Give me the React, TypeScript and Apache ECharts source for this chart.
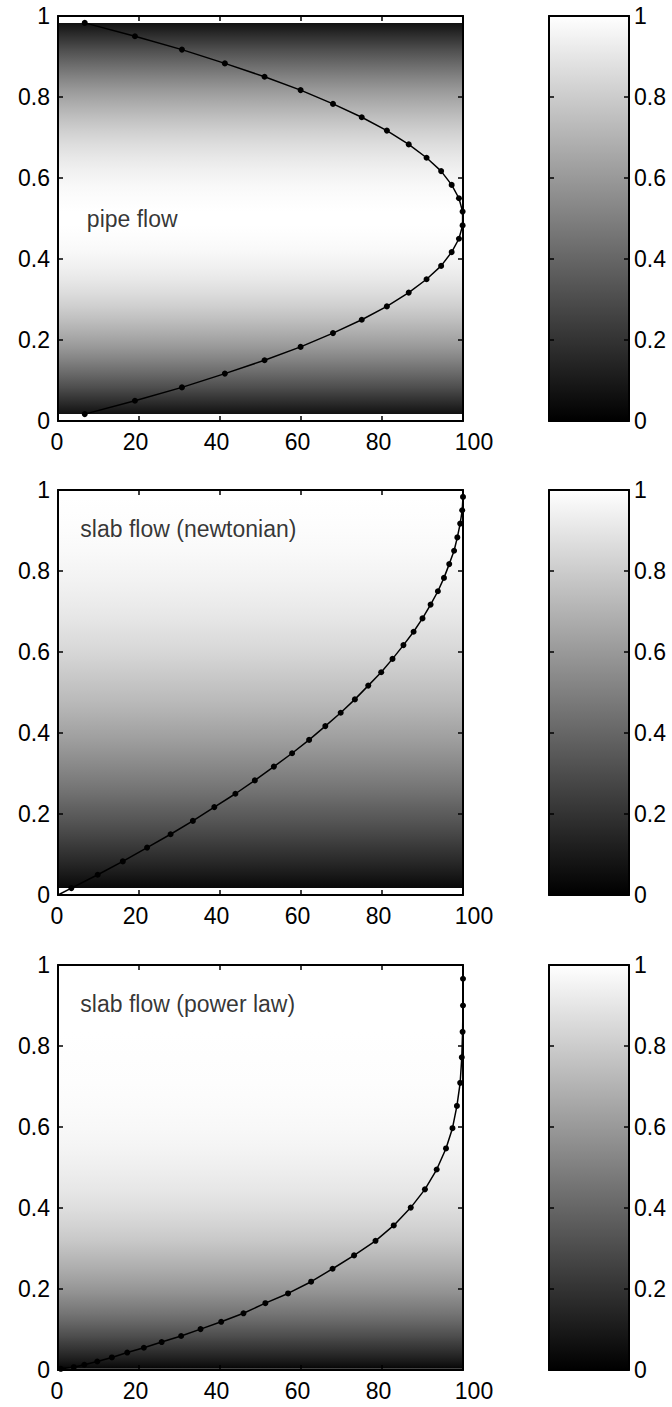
import React, { useEffect, useRef } from 'react';
import * as echarts from 'echarts';

// ---- data ----
const titles = ['pipe flow', 'slab flow (newtonian)', 'slab flow (power law)'];

// pipe flow profile (height y, velocity u in %)
const pipeY = [0.017, 0.05, 0.083, 0.117, 0.15, 0.183, 0.217, 0.25, 0.283, 0.317, 0.35, 0.383, 0.417, 0.45, 0.483,
  0.517, 0.55, 0.583, 0.617, 0.65, 0.683, 0.717, 0.75, 0.783, 0.817, 0.85, 0.883, 0.917, 0.95, 0.983];
const pipeU = [6.6, 19, 30.6, 41.2, 51, 59.9, 67.9, 75, 81.2, 86.6, 91, 94.6, 97.2, 99, 99.9,
  99.9, 99, 97.2, 94.6, 91, 86.6, 81.2, 75, 67.9, 59.9, 51, 41.2, 30.6, 19, 6.6];

// newtonian slab flow profile
const newtY = [0.017, 0.05, 0.083, 0.117, 0.15, 0.183, 0.217, 0.25, 0.283, 0.317, 0.35, 0.383, 0.417, 0.45, 0.483,
  0.517, 0.55, 0.583, 0.617, 0.65, 0.683, 0.717, 0.75, 0.783, 0.817, 0.85, 0.883, 0.917, 0.95, 0.983];
const newtU = [3.3, 9.8, 16.0, 22.0, 27.8, 33.3, 38.6, 43.8, 48.6, 53.3, 57.8, 62.0, 66.0, 69.8, 73.3,
  76.6, 79.8, 82.6, 85.3, 87.8, 90.0, 92.0, 93.8, 95.3, 96.6, 97.8, 98.6, 99.3, 99.8, 100];

// power-law slab flow profile
const powY = [0.003, 0.007, 0.013, 0.021, 0.031, 0.043, 0.055, 0.069, 0.084, 0.101, 0.119, 0.14, 0.165, 0.189, 0.218,
  0.25, 0.283, 0.319, 0.357, 0.401, 0.446, 0.495, 0.547, 0.597, 0.652, 0.709, 0.772, 0.835, 0.9, 0.966];
const powU = [0.7, 3.9, 6.5, 9.7, 13.3, 17.1, 21.2, 25.6, 30.4, 35.2, 40.3, 45.8, 51.2, 56.8, 62.5,
  67.8, 73.1, 78.4, 82.9, 87.1, 90.6, 93.5, 95.8, 97.4, 98.5, 99.3, 99.7, 99.9, 100, 100];

const wallStart = [0, 0]; // line starts at the wall for slab flows

const xTicks = { min: 0, max: 100, interval: 20 };
const yTicks = { min: 0, max: 1, interval: 0.2 };
const colorRange = [0, 1];

const profiles = [
  { y: pipeY, u: pipeU, fromWall: false, text: [7, 0.5] },
  { y: newtY, u: newtU, fromWall: true, text: [5.4, 0.904] },
  { y: powY, u: powU, fromWall: true, text: [5.4, 0.904] },
];

const FONT = 'Liberation Sans, Arial, Helvetica, sans-serif';
const FS = 23;

const gray = (v: number) => {
  const g = Math.round(Math.max(0, Math.min(1, v)) * 255);
  return `rgb(${g},${g},${g})`;
};

const tops = [16, 490, 965];

export default function App() {
  const ref = useRef<HTMLDivElement>(null);
  useEffect(() => {
    document.body.style.margin = '0';
    const chart = echarts.init(ref.current!, undefined, { renderer: 'svg' });
    const grid: any[] = [];
    const xAxis: any[] = [];
    const yAxis: any[] = [];
    const series: any[] = [];
    const axLine = { show: true, onZero: false, lineStyle: { color: '#000', width: 2 } };
    const tick = { show: true, inside: true, length: 5, lineStyle: { color: '#000', width: 1.5 } };
    const lbl = { fontSize: FS, fontFamily: FONT, color: '#000' };
    const xLabel = {
      ...lbl, margin: 9,
      formatter: (v: number) => (v === xTicks.max ? `{r|${v}}` : v === xTicks.min ? `{z|${v}}` : `{n|${v}}`),
      rich: {
        n: { ...lbl, padding: [0, 7, 0, 0] },
        z: { ...lbl, padding: [0, 2, 0, 0] },
        r: { ...lbl, padding: [0, 0, 0, 22] },
      },
    };

    profiles.forEach((p, k) => {
      const gMain = 2 * k, gCb = 2 * k + 1;
      grid.push({ left: 58, top: tops[k], width: 405, height: 405 });
      grid.push({ left: 549, top: tops[k], width: 80, height: 405 });
      const xb = xAxis.length;
      xAxis.push({ type: 'value', gridIndex: gMain, position: 'bottom', ...xTicks, axisLine: axLine, axisTick: tick,
        axisLabel: xLabel, splitLine: { show: false }, z: 5 });
      xAxis.push({ type: 'value', gridIndex: gMain, position: 'top', ...xTicks, axisLine: axLine, axisTick: tick,
        axisLabel: { show: false }, splitLine: { show: false }, z: 5 });
      xAxis.push({ type: 'value', gridIndex: gCb, position: 'bottom', min: colorRange[0], max: colorRange[1], axisLine: axLine,
        axisTick: { show: false }, axisLabel: { show: false }, splitLine: { show: false }, z: 5 });
      xAxis.push({ type: 'value', gridIndex: gCb, position: 'top', min: colorRange[0], max: colorRange[1], axisLine: axLine,
        axisTick: { show: false }, axisLabel: { show: false }, splitLine: { show: false }, z: 5 });
      const yb = yAxis.length;
      yAxis.push({ type: 'value', gridIndex: gMain, position: 'left', ...yTicks, axisLine: axLine, axisTick: tick,
        axisLabel: { ...lbl, margin: 8 }, splitLine: { show: false }, z: 5 });
      yAxis.push({ type: 'value', gridIndex: gMain, position: 'right', ...yTicks, axisLine: axLine, axisTick: tick,
        axisLabel: { show: false }, splitLine: { show: false }, z: 5 });
      yAxis.push({ type: 'value', gridIndex: gCb, position: 'left', ...yTicks, axisLine: axLine, axisTick: tick,
        axisLabel: { show: false }, splitLine: { show: false }, z: 5 });
      yAxis.push({ type: 'value', gridIndex: gCb, position: 'right', ...yTicks, axisLine: axLine, axisTick: tick,
        axisLabel: { ...lbl, margin: 5 }, splitLine: { show: false }, z: 5 });

      const yMin = p.y[0], yMax = p.y[p.y.length - 1];
      // background image of the velocity field
      series.push({
        type: 'custom', xAxisIndex: xb, yAxisIndex: yb, z: 1, silent: true,
        data: [[xTicks.min, yMin, xTicks.max, yMax]],
        renderItem: (params: any, api: any) => {
          const a = api.coord([api.value(0), api.value(3)]);
          const b = api.coord([api.value(2), api.value(1)]);
          const stops = p.y.map((yy, i) => ({ offset: (yMax - yy) / (yMax - yMin), color: gray(p.u[i] / 100) })).reverse();
          return {
            type: 'rect',
            shape: { x: a[0], y: a[1], width: b[0] - a[0], height: b[1] - a[1] },
            style: { fill: new echarts.graphic.LinearGradient(0, 0, 0, 1, stops) },
          };
        },
      });
      // colorbar
      series.push({
        type: 'custom', xAxisIndex: xb + 2, yAxisIndex: yb + 2, z: 1, silent: true,
        data: [[colorRange[0], colorRange[0], colorRange[1], colorRange[1]]],
        renderItem: (params: any, api: any) => {
          const a = api.coord([api.value(0), api.value(3)]);
          const b = api.coord([api.value(2), api.value(1)]);
          return {
            type: 'rect',
            shape: { x: a[0], y: a[1], width: b[0] - a[0], height: b[1] - a[1] },
            style: {
              fill: new echarts.graphic.LinearGradient(0, 0, 0, 1, [
                { offset: 0, color: gray(colorRange[1]) },
                { offset: 1, color: gray(colorRange[0]) },
              ]),
            },
          };
        },
      });
      // profile line with markers
      const pts: any[] = p.y.map((yy, i) => [p.u[i], yy]);
      if (p.fromWall) pts.unshift({ value: wallStart, symbol: 'none' });
      series.push({
        type: 'line', xAxisIndex: xb, yAxisIndex: yb, z: 10, data: pts,
        symbol: 'circle', symbolSize: 6, showAllSymbol: true,
        lineStyle: { color: '#000', width: 1.5 }, itemStyle: { color: '#000' },
      });
      // annotation
      series.push({
        type: 'scatter', xAxisIndex: xb, yAxisIndex: yb, z: 11, silent: true,
        data: [p.text], symbolSize: 1, itemStyle: { color: 'rgba(0,0,0,0)' },
        label: { show: true, position: 'right', distance: 0, formatter: titles[k], ...lbl },
      });
    });

    chart.setOption({ animation: false, backgroundColor: '#fff', grid, xAxis, yAxis, series });
    return () => chart.dispose();
  }, []);
  return <div ref={ref} style={{ width: 672, height: 1407 }} />;
}
